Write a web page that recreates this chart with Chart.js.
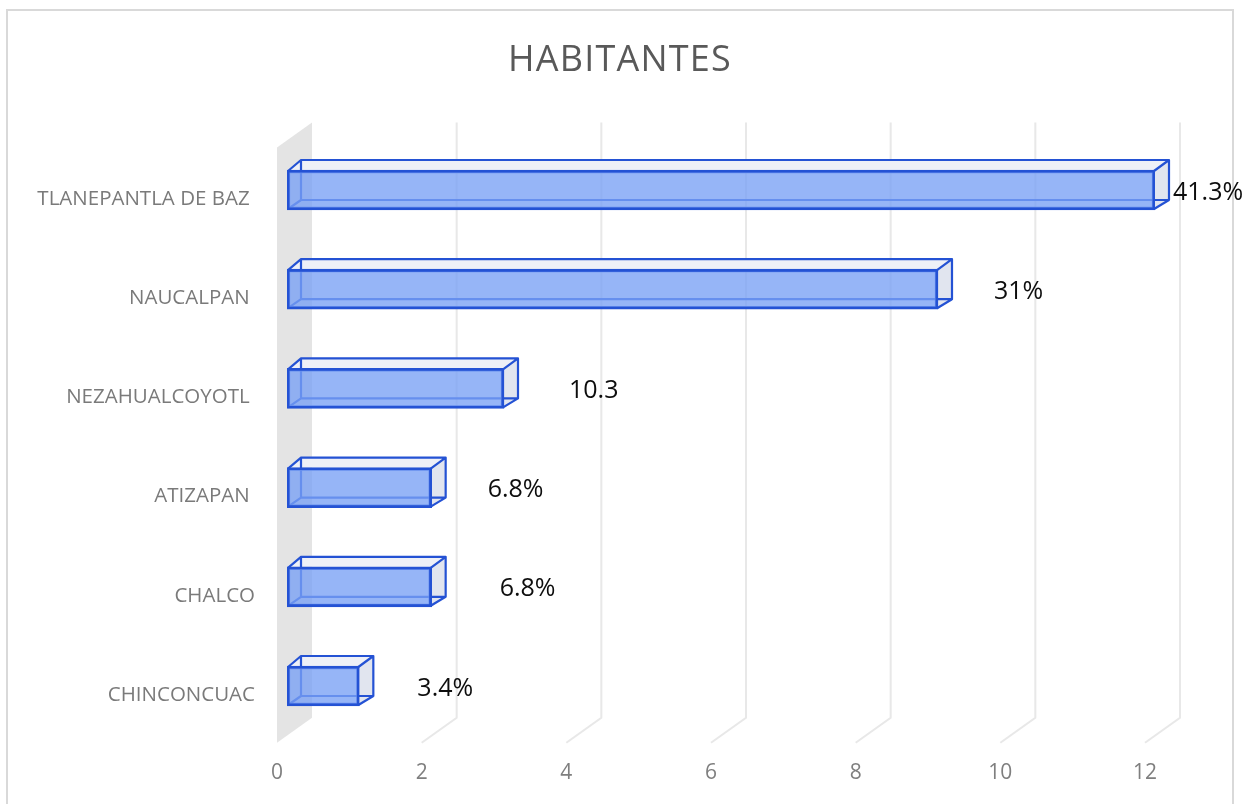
<!DOCTYPE html>
<html><head><meta charset="utf-8">
<script src="https://cdn.jsdelivr.net/npm/chart.js@4.4.1/dist/chart.umd.min.js"></script>
<style>html,body{margin:0;padding:0;background:#fff;overflow:hidden}#c{display:block}</style>
</head><body>
<canvas id="c" width="1256" height="804"></canvas>
<script>
// ---- data ----
const chartTitle = 'HABITANTES';
const categories = ['TLANEPANTLA DE BAZ ', 'NAUCALPAN ', 'NEZAHUALCOYOTL ', 'ATIZAPAN ', 'CHALCO', 'CHINCONCUAC'];
const habitantes = [12, 9, 3, 2, 2, 1];
const dataLabels = ['41.3%', '31%', '10.3', '6.8%', '6.8%', '3.4%'];
const xTicks = [0, 2, 4, 6, 8, 10, 12];

// ---- styling ----
const labelGaps = [4, 42, 51, 42, 54, 44];      // gap between bar end and its label (px)
const FRONT = {dx: -10, dy: 7.14};              // floor/wall front plane offset
const BACK = {dx: 25, dy: -17.86};              // wall/grid back plane offset
const BARD = {dx: 14, dy: -10};                 // bar depth
const EDGE = 'rgb(36,82,212)';
const FONT = '"Open Sans", "DejaVu Sans", sans-serif';

const scene3d = {
  id: 'scene3d',
  beforeDraw(chart) {
    const {ctx} = chart;
    ctx.save();
    ctx.fillStyle = '#fff';
    ctx.fillRect(0, 0, chart.width, chart.height);
    ctx.strokeStyle = '#d9d9d9';
    ctx.lineWidth = 2;
    ctx.strokeRect(7, 10, 1226, 840);
    ctx.fillStyle = '#595959';
    ctx.font = '36px ' + FONT;
    ctx.letterSpacing = '1.2px';
    ctx.textAlign = 'center';
    ctx.textBaseline = 'alphabetic';
    ctx.fillText(chartTitle, 620, 71);
    ctx.restore();
  },
  beforeDatasetsDraw(chart) {
    const {ctx, chartArea: a, scales: {x}} = chart;
    const top = a.top, bot = a.bottom;
    const x0 = x.getPixelForValue(0);
    ctx.save();
    // side wall
    ctx.fillStyle = '#e4e4e4';
    ctx.beginPath();
    ctx.moveTo(x0 + FRONT.dx, top + FRONT.dy);
    ctx.lineTo(x0 + BACK.dx, top + BACK.dy);
    ctx.lineTo(x0 + BACK.dx, bot + BACK.dy);
    ctx.lineTo(x0 + FRONT.dx, bot + FRONT.dy);
    ctx.closePath();
    ctx.fill();
    // gridlines (back wall + floor)
    ctx.strokeStyle = '#e8e8e8';
    ctx.lineWidth = 2;
    xTicks.forEach(v => {
      if (v === 0) return;
      const px = x.getPixelForValue(v);
      ctx.beginPath();
      ctx.moveTo(px + BACK.dx, top + BACK.dy);
      ctx.lineTo(px + BACK.dx, bot + BACK.dy);
      ctx.lineTo(px + FRONT.dx, bot + FRONT.dy);
      ctx.stroke();
    });
    // bar back / top / side faces
    const meta = chart.getDatasetMeta(0);
    meta.data.forEach(bar => {
      const p = bar.getProps(['x', 'y', 'base', 'height'], true);
      const xs = p.base, xe = p.x, yT = p.y - p.height / 2, yB = p.y + p.height / 2;
      const dx = BARD.dx, dy = BARD.dy;
      ctx.fillStyle = '#eef0f7';
      ctx.beginPath();
      ctx.moveTo(xs, yT); ctx.lineTo(xs + dx, yT + dy); ctx.lineTo(xe + dx, yT + dy); ctx.lineTo(xe, yT);
      ctx.closePath(); ctx.fill();
      ctx.fillStyle = '#e1e5ef';
      ctx.beginPath();
      ctx.moveTo(xe, yT); ctx.lineTo(xe + dx, yT + dy); ctx.lineTo(xe + dx, yB + dy); ctx.lineTo(xe, yB);
      ctx.closePath(); ctx.fill();
      ctx.strokeStyle = EDGE;
      ctx.lineWidth = 2.2;
      ctx.lineJoin = 'round';
      ctx.beginPath();
      ctx.rect(xs + dx, yT + dy, xe - xs, yB - yT);
      ctx.moveTo(xs + 1, yT + 1); ctx.lineTo(xs + dx, yT + dy);
      ctx.moveTo(xe - 1, yT + 1); ctx.lineTo(xe + dx, yT + dy);
      ctx.moveTo(xs + 1, yB - 1); ctx.lineTo(xs + dx, yB + dy);
      ctx.moveTo(xe - 1, yB - 1); ctx.lineTo(xe + dx, yB + dy);
      ctx.stroke();
    });
    ctx.restore();
  },
  afterDatasetsDraw(chart) {
    const {ctx} = chart;
    const meta = chart.getDatasetMeta(0);
    ctx.save();
    ctx.fillStyle = '#0d0d0d';
    ctx.font = '25px ' + FONT;
    ctx.textAlign = 'left';
    ctx.textBaseline = 'alphabetic';
    meta.data.forEach((bar, i) => {
      const p = bar.getProps(['x', 'y'], true);
      ctx.fillText(dataLabels[i], p.x + BARD.dx + labelGaps[i], p.y + 9.5);
    });
    ctx.restore();
  }
};

new Chart(document.getElementById('c'), {
  type: 'bar',
  data: {
    labels: categories,
    datasets: [{
      label: chartTitle,
      data: habitantes,
      backgroundColor: 'rgba(120,160,245,0.78)',
      borderColor: EDGE,
      borderWidth: 2.8,
      borderSkipped: false,
      barThickness: 40
    }]
  },
  options: {
    indexAxis: 'y',
    responsive: false,
    animation: false,
    layout: {padding: {top: 140.4, right: 101, left: 0, bottom: 0}},
    plugins: {legend: {display: false}, title: {display: false}, tooltip: {enabled: false}},
    scales: {
      x: {
        min: 0, max: 12,
        afterBuildTicks(s) { s.ticks = xTicks.map(v => ({value: v})); },
        afterFit(s) { s.height = 804 - 735.6; },
        grid: {display: false, drawTicks: false},
        border: {display: false},
        ticks: {font: {family: FONT, size: 21}, color: '#7f7f7f', padding: 25, labelOffset: -10}
      },
      y: {
        afterFit(s) { s.width = 287; },
        grid: {display: false, drawTicks: false},
        border: {display: false},
        ticks: {font: {family: FONT, size: 20.5}, color: '#7a7a7a', padding: 32, labelOffset: 9}
      }
    }
  },
  plugins: [scene3d]
});
</script>
</body></html>
